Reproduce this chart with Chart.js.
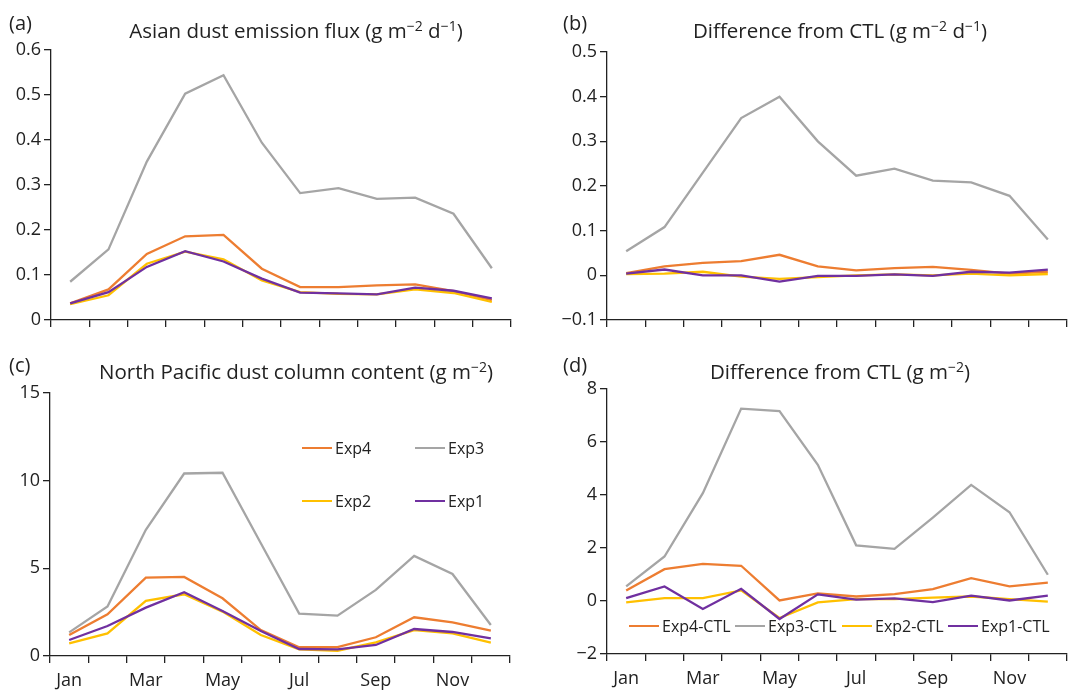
<!DOCTYPE html>
<html>
<head>
<meta charset="utf-8">
<script src="https://cdn.jsdelivr.net/npm/chart.js@4.4.1/dist/chart.umd.min.js"></script>
<style>
  body { margin:0; background:#fff; font-family:"Open Sans", sans-serif; color:#222; }
  #wrap { position:relative; width:1071px; height:691px; overflow:hidden; }
  canvas { position:absolute; }
  .lbl { position:absolute; font-size:20px; line-height:1; white-space:nowrap; }
  .ttl { position:absolute; font-size:20.5px; line-height:1; white-space:nowrap; transform:translateX(-50%); }
  .ttl sup { font-size:14px; vertical-align:7px; line-height:0; }
  .leg { position:absolute; font-size:16px; line-height:1; white-space:nowrap; display:flex; align-items:center; }
  .leg i { display:inline-block; width:30px; height:2.6px; margin-right:3px; }
</style>
</head>
<body>
<div id="wrap">
  <canvas id="ca" width="530" height="345" style="left:0;top:0"></canvas>
  <canvas id="cb" width="536" height="340" style="left:535px;top:0"></canvas>
  <canvas id="cc" width="530" height="351" style="left:0;top:340px"></canvas>
  <canvas id="cd" width="536" height="351" style="left:535px;top:340px"></canvas>

  <div class="lbl" style="left:9px;top:13px">(a)</div>
  <div class="ttl" style="left:296px;top:20px">Asian dust emission flux (g m<sup>−2</sup> d<sup>−1</sup>)</div>
  <div class="lbl" style="left:563px;top:13px">(b)</div>
  <div class="ttl" style="left:840px;top:20px">Difference from CTL (g m<sup>−2</sup> d<sup>−1</sup>)</div>
  <div class="lbl" style="left:9px;top:355px">(c)</div>
  <div class="ttl" style="left:296px;top:361px">North Pacific dust column content (g m<sup>−2</sup>)</div>
  <div class="lbl" style="left:563px;top:355px">(d)</div>
  <div class="ttl" style="left:840px;top:361px">Difference from CTL (g m<sup>−2</sup>)</div>

  <div class="leg" style="left:302px;top:440px"><i style="background:#ED7D31"></i>Exp4</div>
  <div class="leg" style="left:415px;top:440px"><i style="background:#A5A5A5"></i>Exp3</div>
  <div class="leg" style="left:302px;top:493px"><i style="background:#FFC000"></i>Exp2</div>
  <div class="leg" style="left:415px;top:493px"><i style="background:#7030A0"></i>Exp1</div>

  <div class="leg" style="left:629px;top:618px"><i style="background:#ED7D31"></i>Exp4-CTL</div>
  <div class="leg" style="left:735px;top:618px"><i style="background:#A5A5A5"></i>Exp3-CTL</div>
  <div class="leg" style="left:842px;top:618px"><i style="background:#FFC000"></i>Exp2-CTL</div>
  <div class="leg" style="left:948px;top:618px"><i style="background:#7030A0"></i>Exp1-CTL</div>
</div>
<script>
// Months
const months = ['Jan','Feb','Mar','Apr','May','Jun','Jul','Aug','Sep','Oct','Nov','Dec'];

// (a) Asian dust emission flux
const aExp4 = [0.037,0.068,0.147,0.186,0.189,0.114,0.073,0.073,0.077,0.079,0.064,0.044];
const aExp3 = [0.085,0.157,0.352,0.503,0.544,0.394,0.282,0.293,0.269,0.272,0.236,0.115];
const aExp2 = [0.035,0.055,0.125,0.152,0.135,0.088,0.062,0.058,0.057,0.068,0.060,0.040];
const aExp1 = [0.037,0.062,0.118,0.153,0.130,0.092,0.061,0.059,0.057,0.072,0.065,0.048];

// (b) Difference from CTL (emission)
const bExp4 = [0.005,0.020,0.028,0.032,0.046,0.020,0.011,0.016,0.019,0.012,0.004,0.008];
const bExp3 = [0.054,0.108,0.230,0.352,0.400,0.300,0.223,0.239,0.212,0.208,0.178,0.080];
const bExp2 = [0.003,0.004,0.008,-0.003,-0.008,-0.004,0.000,0.002,0.000,0.004,0.000,0.003];
const bExp1 = [0.004,0.013,0.000,0.000,-0.014,-0.001,-0.001,0.002,-0.001,0.008,0.006,0.013];

// (c) North Pacific dust column content
const cExp4 = [1.20,2.38,4.47,4.51,3.29,1.48,0.50,0.51,1.07,2.21,1.92,1.45];
const cExp3 = [1.35,2.82,7.20,10.41,10.45,6.43,2.42,2.30,3.77,5.71,4.68,1.77];
const cExp2 = [0.72,1.29,3.14,3.52,2.53,1.20,0.38,0.30,0.78,1.48,1.29,0.76];
const cExp1 = [0.91,1.71,2.76,3.64,2.57,1.43,0.40,0.38,0.63,1.54,1.37,1.01];

// (d) Difference from CTL (column)
const dExp4 = [0.40,1.20,1.40,1.33,0.02,0.29,0.17,0.26,0.45,0.86,0.55,0.69];
const dExp3 = [0.55,1.68,4.07,7.26,7.17,5.14,2.10,1.97,3.15,4.38,3.35,0.99];
const dExp2 = [-0.05,0.11,0.11,0.40,-0.64,-0.05,0.07,0.07,0.13,0.17,0.07,-0.02];
const dExp1 = [0.11,0.55,-0.30,0.46,-0.68,0.25,0.05,0.10,-0.04,0.20,0.02,0.20];

const COL = { exp4:'#ED7D31', exp3:'#A5A5A5', exp2:'#FFC000', exp1:'#7030A0' };
const FONT = '"Open Sans", sans-serif';

function line(data, color) {
    return { data, borderColor:color, backgroundColor:color, borderWidth:2.3,
             pointRadius:0, tension:0, fill:false };
}

function makeChart(id, series, yMin, yMax, step, dec, opts) {
    new Chart(document.getElementById(id), {
        type: 'line',
        data: {
            labels: months,
            datasets: [line(series[3], COL.exp1), line(series[2], COL.exp2),
                       line(series[0], COL.exp4), line(series[1], COL.exp3)]
        },
        options: {
            responsive:false, animation:false, devicePixelRatio:1,
            layout: { padding: { top:opts.top, right:opts.right, left:0, bottom:0 } },
            plugins: { legend:{ display:false }, tooltip:{ enabled:false } },
            scales: {
                x: {
                    type:'category', offset:true,
                    grid: { offset:true, drawOnChartArea:false, drawTicks:true, tickLength:7, color:'#222', lineWidth:1.3 },
                    border: { color:'#222', width:1.3 },
                    ticks: { autoSkip:false, maxRotation:0, padding:7, color:'#222',
                             font:{ family:FONT, size:18 },
                             callback: (v, i) => opts.xLabels && i % 2 === 0 ? months[i] : '' },
                    afterFit: s => { s.height = opts.xh; }
                },
                y: {
                    min:yMin, max:yMax,
                    grid: { drawOnChartArea:false, drawTicks:true, tickLength:7, color:'#222', lineWidth:1.3 },
                    border: { color:'#222', width:1.3 },
                    ticks: { stepSize:step, padding:3, color:'#222', font:{ family:FONT, size:18 },
                             callback: v => (+v.toFixed(dec)).toString().replace('-', '\u2212') },
                    afterFit: s => { s.width = opts.yw; }
                }
            }
        }
    });
}

makeChart('ca', [aExp4, aExp3, aExp2, aExp1], 0, 0.6, 0.1, 1, { top:50, right:19, xh:25, yw:51, xLabels:false });
makeChart('cb', [bExp4, bExp3, bExp2, bExp1], -0.1, 0.5, 0.1, 1, { top:52, right:4, xh:20, yw:72, xLabels:false });
makeChart('cc', [cExp4, cExp3, cExp2, cExp1], 0, 15, 5, 0, { top:53, right:20, xh:35, yw:50, xLabels:true });
makeChart('cd', [dExp4, dExp3, dExp2, dExp1], -2, 8, 2, 0, { top:49, right:4, xh:37, yw:72, xLabels:true });
</script>
</body>
</html>
